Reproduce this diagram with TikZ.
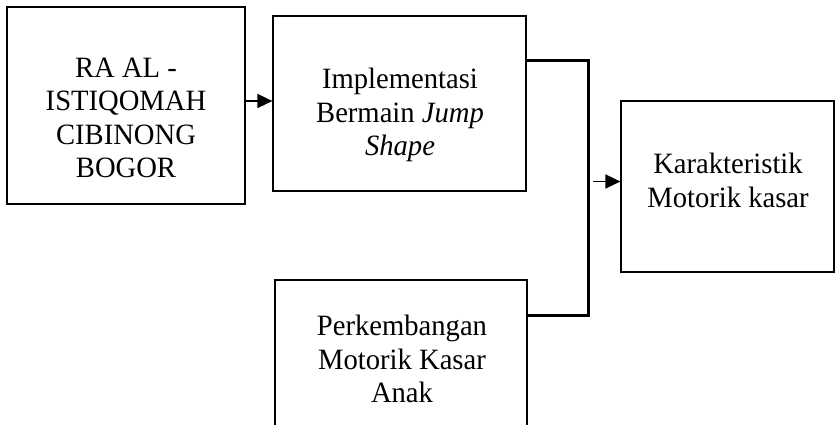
\documentclass[tikz,border=0pt]{standalone}
\usepackage{fontspec}
\setmainfont{Liberation Serif}[FakeStretch=0.97]
\usetikzlibrary{arrows.meta}
\tikzset{
  box/.style={draw=black, line width=1.2pt, rectangle, inner sep=0pt},
  lbl/.style={anchor=north, align=center, inner sep=0pt, font=\fontsize{29.5}{33.5}\selectfont},
  link/.style={draw=black, line width=3pt},
  arr/.style={draw=black, line width=1.6pt, -{Triangle[length=15pt,width=14pt]}}
}
\begin{document}
\begin{tikzpicture}[x=1pt,y=-1pt]
\useasboundingbox (0,0) rectangle (837,425);
\clip (0,0) rectangle (837,425);
\fill[white] (0,0) rectangle (837,425);
% boxes
\node[box, minimum width=238pt, minimum height=197pt] (A) at (126,105.5) {};
\node[box, minimum width=253pt, minimum height=175pt] (B) at (399.5,103.5) {};
\node[box, minimum width=252pt, minimum height=160pt] (C) at (401,360) {};
\node[box, minimum width=213pt, minimum height=171pt] (D) at (727.5,186.5) {};
% labels
\node[lbl] (tA) at (126,57.5) {RA AL -\\ISTIQOMAH\\CIBINONG\\BOGOR};
\node[lbl] (tB) at (400,68) {Implementasi\\Bermain \textit{Jump}\\\textit{Shape}};
\node[lbl] (tC) at (402,315) {Perkembangan\\Motorik Kasar\\Anak};
\node[lbl] (tD) at (728,153) {Karakteristik\\Motorik kasar};
% connectors
\coordinate (jt) at (588,61);
\coordinate (jb) at (588,315);
\coordinate (ja) at (593,181.5);
\draw[arr] (A.east |- 0,101) -- (B.west |- 0,101);
\draw[link] (B.east |- jt) -- (jt) -- (jb) -- (C.east |- jb);
\draw[arr] (ja) -- (D.west |- ja);
\end{tikzpicture}
\end{document}
